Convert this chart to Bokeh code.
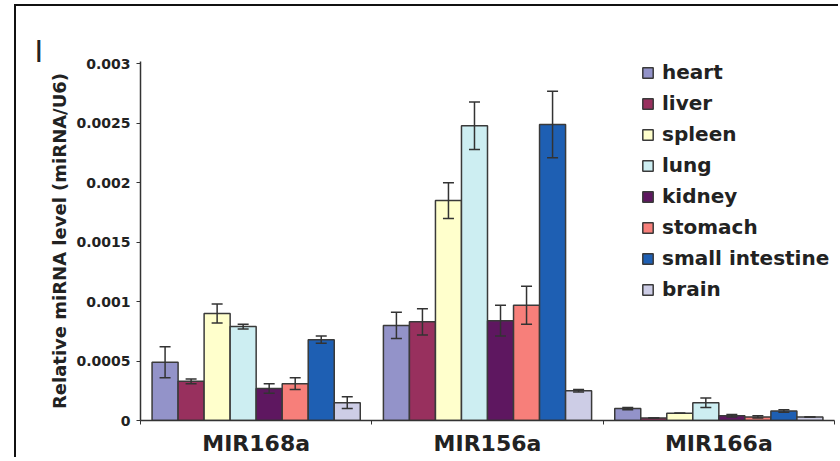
from bokeh.plotting import figure
from bokeh.models import (ColumnDataSource, Range1d, FixedTicker, Whisker, TeeHead,
                          Legend, LegendItem, Title)
from bokeh.embed import file_html
from bokeh.resources import INLINE

# ---- data ----
groups = ["MIR168a", "MIR156a", "MIR166a"]
tissues = ["heart", "liver", "spleen", "lung", "kidney", "stomach", "small intestine", "brain"]
colors = ["#9393c9", "#98305e", "#ffffcc", "#cdeef2", "#5e1760", "#f77f7a", "#1e5fb3", "#cdcde6"]

heart = [0.00049, 0.00080, 0.00010]
liver = [0.00033, 0.00083, 0.00002]
spleen = [0.00090, 0.00185, 0.00006]
lung = [0.00079, 0.00248, 0.00015]
kidney = [0.00027, 0.00084, 0.00004]
stomach = [0.00031, 0.00097, 0.00003]
small_intestine = [0.00068, 0.00249, 0.00008]
brain = [0.00015, 0.00025, 0.00003]

heart_err = [0.00013, 0.00011, 0.00001]
liver_err = [0.00002, 0.00011, 0.00000]
spleen_err = [0.00008, 0.00015, 0.00000]
lung_err = [0.00002, 0.00020, 0.00004]
kidney_err = [0.00004, 0.00013, 0.00001]
stomach_err = [0.00005, 0.00016, 0.00001]
small_intestine_err = [0.00003, 0.00028, 0.00001]
brain_err = [0.00005, 0.00001, 0.00000]

values = [heart, liver, spleen, lung, kidney, stomach, small_intestine, brain]
errors = [heart_err, liver_err, spleen_err, lung_err, kidney_err, stomach_err,
          small_intestine_err, brain_err]

y_ticks = [0, 0.0005, 0.001, 0.0015, 0.002, 0.0025, 0.003]
y_tick_labels = ["0", "0.0005", "0.001", "0.0015", "0.002", "0.0025", "0.003"]

panel_letter = "I"

FONT = "DejaVu Sans"

p = figure(width=824, height=453, output_backend="svg", toolbar_location=None,
           x_range=Range1d(0, 3), y_range=Range1d(0, 0.00302),
           min_border_left=124, min_border_right=6, min_border_top=55, min_border_bottom=39)
p.margin = (4, 0, 0, 14)
p.styles = {"border-left": "2px solid #111111", "border-top": "2px solid #111111"}
p.outline_line_color = None
p.xgrid.visible = False
p.ygrid.visible = False
p.background_fill_color = "white"
p.border_fill_color = "white"

n = len(tissues)
group_fill = 0.9
bw = group_fill / n

items = []
for i, (t, c, v, e) in enumerate(zip(tissues, colors, values, errors)):
    xs = [g + (1 - group_fill) / 2 + (i + 0.5) * bw for g in range(len(groups))]
    src = ColumnDataSource(dict(x=xs, top=v,
                                upper=[a + b for a, b in zip(v, e)],
                                lower=[a - b for a, b in zip(v, e)]))
    r = p.vbar(x="x", top="top", width=bw, bottom=0, source=src,
               fill_color=c, line_color="#3a3a3a", line_width=1.5)
    w = Whisker(base="x", upper="upper", lower="lower", source=src, level="overlay",
                line_color="#333333", line_width=1.5,
                upper_head=TeeHead(size=11, line_color="#333333", line_width=1.5),
                lower_head=TeeHead(size=11, line_color="#333333", line_width=1.5))
    p.add_layout(w)
    items.append(LegendItem(label=t, renderers=[r]))

legend = Legend(items=items, location=(501, 119), padding=0, margin=0,
                border_line_color=None, background_fill_alpha=0,
                label_text_font=FONT, label_text_font_style="bold",
                label_text_font_size="20px", label_text_color="#222222",
                glyph_width=13, glyph_height=13, label_standoff=8,
                label_height=23, spacing=7)
p.add_layout(legend, "center")

# x axis
xa = p.xaxis[0]
xa.ticker = FixedTicker(ticks=[g + 0.5 for g in range(len(groups))],
                        minor_ticks=list(range(len(groups) + 1)))
xa.major_label_overrides = {g + 0.5: name for g, name in enumerate(groups)}
xa.major_tick_line_color = None
xa.major_tick_out = 0
xa.major_tick_in = 0
xa.minor_tick_in = 0
xa.minor_tick_out = 4
xa.minor_tick_line_color = "#333333"
xa.axis_line_color = "#333333"
xa.axis_line_width = 1.5
xa.major_label_text_font = FONT
xa.major_label_text_font_style = "bold"
xa.major_label_text_font_size = "22px"
xa.major_label_text_color = "#222222"
xa.major_label_standoff = 6

# y axis
ya = p.yaxis[0]
ya.ticker = FixedTicker(ticks=y_ticks, minor_ticks=[])
ya.major_label_overrides = {t: l for t, l in zip(y_ticks, y_tick_labels)}
ya.major_tick_in = 0
ya.major_tick_out = 4
ya.major_tick_line_color = "#333333"
ya.minor_tick_line_color = None
ya.axis_line_color = "#333333"
ya.axis_line_width = 1.5
ya.major_label_text_font = FONT
ya.major_label_text_font_style = "bold"
ya.major_label_text_font_size = "14px"
ya.major_label_text_color = "#222222"
ya.major_label_standoff = 6
ya.axis_label = "Relative miRNA level (miRNA/U6)"
ya.axis_label_text_font = FONT
ya.axis_label_text_font_style = "bold"
ya.axis_label_text_font_size = "18px"
ya.axis_label_text_color = "#222222"
ya.axis_label_standoff = 3

# panel letter, placed in the top panel and shifted left of the frame
p.add_layout(Title(text=panel_letter, align="left", offset=-106, standoff=-19,
                   vertical_align="top",
                   text_font="Liberation Sans", text_font_style="normal",
                   text_font_size="31px", text_color="#222222"), "above")

open("out.html", "w").write(file_html(p, INLINE))
